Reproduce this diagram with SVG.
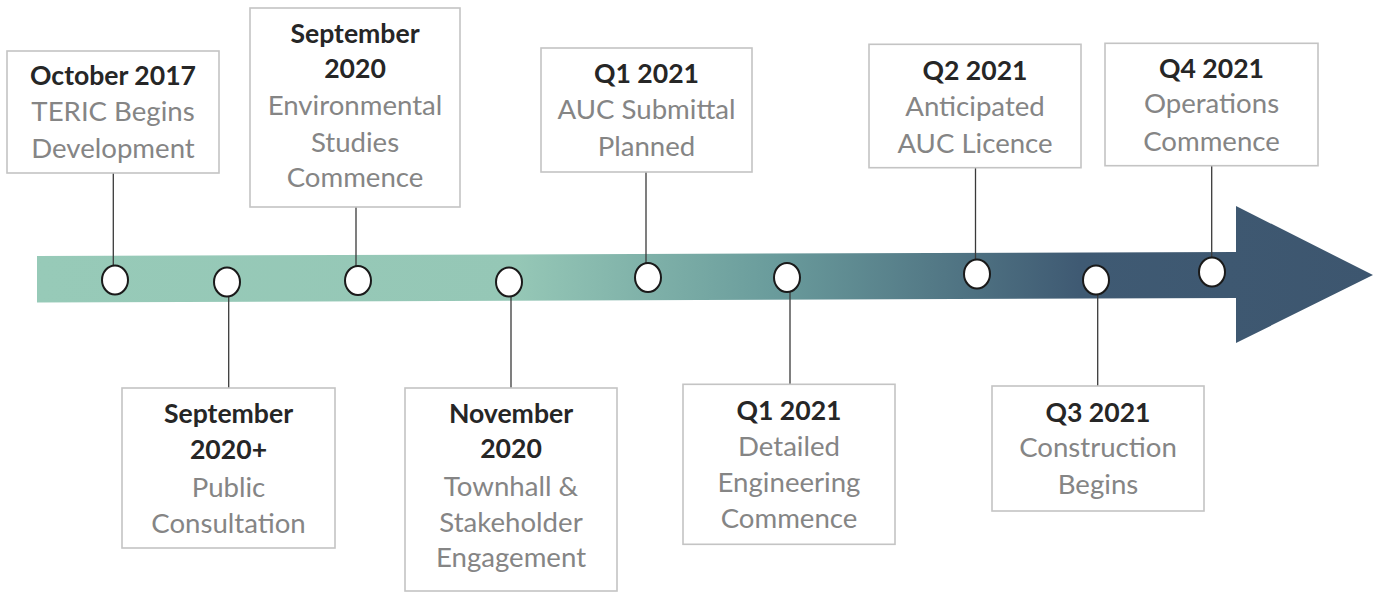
<svg xmlns="http://www.w3.org/2000/svg" width="1373" height="592" viewBox="0 0 1373 592">
  <defs>
    <linearGradient id="barGrad" gradientUnits="userSpaceOnUse" x1="37" y1="0" x2="1373" y2="0">
      <stop offset="0" stop-color="#97cab8"/>
      <stop offset="0.36" stop-color="#95c7b6"/>
      <stop offset="0.55" stop-color="#6a9c9c"/>
      <stop offset="0.78" stop-color="#3f5a73"/>
      <stop offset="1" stop-color="#3d566f"/>
    </linearGradient>
    <style>
      .box { fill: #ffffff; stroke: #c4c4c4; stroke-width: 1.6; }
      .title { font-family: Lato, "Open Sans", sans-serif; font-weight: bold; font-size: 26.6px; fill: #262626; text-anchor: middle; }
      .desc { font-family: Lato, "Open Sans", sans-serif; font-size: 27.6px; fill: #858585; text-anchor: middle; }
      .stem { stroke: #3a3a3a; stroke-width: 1.3; fill: none; }
      .dot { fill: #ffffff; stroke: #1a1a1a; stroke-width: 2; }
    </style>
  </defs>

  <!-- timeline arrow -->
  <polygon id="timeline" fill="url(#barGrad)" points="37,256 1236,252 1236,206 1373,275 1236,343 1236,298 37,302.5"/>

  <!-- stems linking each milestone box to its marker -->
  <g id="connectors">
    <line class="stem" x1="113.3" y1="173" x2="113.3" y2="266"/>
    <line class="stem" x1="228.7" y1="296" x2="228.7" y2="388"/>
    <line class="stem" x1="356" y1="207" x2="356" y2="266"/>
    <line class="stem" x1="511" y1="296" x2="511" y2="388"/>
    <line class="stem" x1="646" y1="172" x2="646" y2="263"/>
    <line class="stem" x1="790" y1="292" x2="790" y2="384"/>
    <line class="stem" x1="975.5" y1="168" x2="975.5" y2="260"/>
    <line class="stem" x1="1097.7" y1="294" x2="1097.7" y2="386"/>
    <line class="stem" x1="1211.7" y1="166" x2="1211.7" y2="258"/>
  </g>

  <!-- markers on the timeline -->
  <g id="markers">
    <ellipse class="dot" cx="115" cy="280" rx="13" ry="14.5"/>
    <ellipse class="dot" cx="227" cy="282" rx="13" ry="14.5"/>
    <ellipse class="dot" cx="358" cy="280.5" rx="13" ry="14.5"/>
    <ellipse class="dot" cx="509" cy="282" rx="13" ry="14.5"/>
    <ellipse class="dot" cx="648" cy="277.5" rx="13" ry="14.5"/>
    <ellipse class="dot" cx="787" cy="277.5" rx="13" ry="14.5"/>
    <ellipse class="dot" cx="977" cy="274" rx="13" ry="14.5"/>
    <ellipse class="dot" cx="1096" cy="280" rx="13" ry="14.5"/>
    <ellipse class="dot" cx="1212" cy="272" rx="13" ry="14.5"/>
  </g>

  <g id="oct2017">
    <rect class="box" x="7" y="51" width="212" height="122"/>
    <text class="title" x="113" y="85">October 2017</text>
    <text class="desc" x="113" y="121">TERIC Begins</text>
    <text class="desc" x="113" y="157.5">Development</text>
  </g>

  <g id="sep2020plus">
    <rect class="box" x="122" y="388" width="213" height="160"/>
    <text class="title" x="228.5" y="423">September</text>
    <text class="title" x="228.5" y="459">2020+</text>
    <text class="desc" x="228.5" y="497">Public</text>
    <text class="desc" x="228.5" y="533">Consultation</text>
  </g>

  <g id="sep2020">
    <rect class="box" x="250" y="8" width="210" height="199"/>
    <text class="title" x="355" y="43.3">September</text>
    <text class="title" x="355" y="78.3">2020</text>
    <text class="desc" x="355" y="115">Environmental</text>
    <text class="desc" x="355" y="151.7">Studies</text>
    <text class="desc" x="355" y="187.3">Commence</text>
  </g>

  <g id="nov2020">
    <rect class="box" x="405" y="388" width="212" height="203"/>
    <text class="title" x="511" y="422.7">November</text>
    <text class="title" x="511" y="458">2020</text>
    <text class="desc" x="511" y="496">Townhall &amp;</text>
    <text class="desc" x="511" y="531.7">Stakeholder</text>
    <text class="desc" x="511" y="566.7">Engagement</text>
  </g>

  <g id="q1-2021-auc">
    <rect class="box" x="541" y="48" width="211" height="124"/>
    <text class="title" x="646.5" y="82.7">Q1 2021</text>
    <text class="desc" x="646.5" y="119">AUC Submittal</text>
    <text class="desc" x="646.5" y="155.7">Planned</text>
  </g>

  <g id="q1-2021-eng">
    <rect class="box" x="683" y="384.3" width="212" height="160"/>
    <text class="title" x="789" y="420">Q1 2021</text>
    <text class="desc" x="789" y="455.7">Detailed</text>
    <text class="desc" x="789" y="492.3">Engineering</text>
    <text class="desc" x="789" y="528.3">Commence</text>
  </g>

  <g id="q2-2021">
    <rect class="box" x="869" y="44.3" width="212" height="123.4"/>
    <text class="title" x="975" y="80">Q2 2021</text>
    <text class="desc" x="975" y="116">Anticipated</text>
    <text class="desc" x="975" y="152.7">AUC Licence</text>
  </g>

  <g id="q3-2021">
    <rect class="box" x="992" y="386" width="212" height="125"/>
    <text class="title" x="1098" y="421.7">Q3 2021</text>
    <text class="desc" x="1098" y="457.3">Construction</text>
    <text class="desc" x="1098" y="494">Begins</text>
  </g>

  <g id="q4-2021">
    <rect class="box" x="1105" y="43.3" width="213" height="122.4"/>
    <text class="title" x="1211.5" y="78.3">Q4 2021</text>
    <text class="desc" x="1211.5" y="113.3">Operations</text>
    <text class="desc" x="1211.5" y="150.7">Commence</text>
  </g>
</svg>
